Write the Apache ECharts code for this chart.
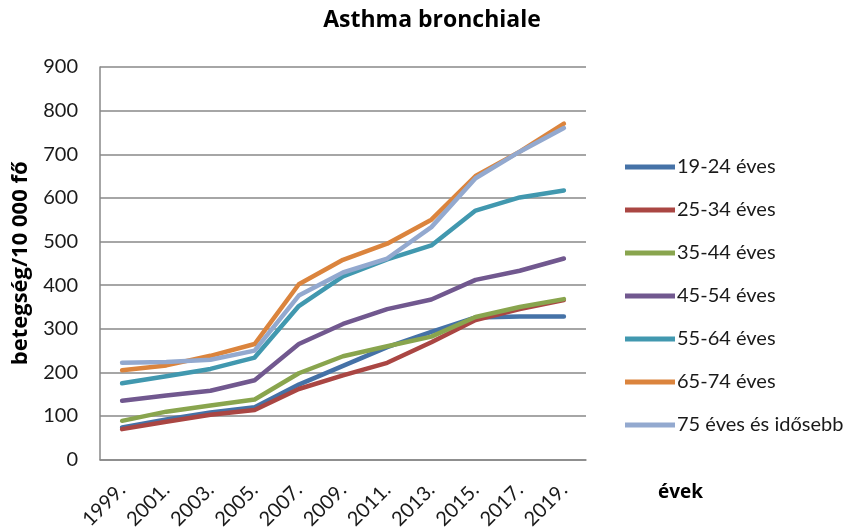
<!DOCTYPE html>
<html>
<head>
<meta charset="utf-8">
<script src="https://cdn.jsdelivr.net/npm/echarts@6/dist/echarts.min.js"></script>
<style>
  html, body { margin: 0; padding: 0; background: #fff; }
  #chart { width: 854px; height: 532px; }
</style>
</head>
<body>
<div id="chart"></div>
<script>
// Years on the category axis
const years = ['1999.', '2001.', '2003.', '2005.', '2007.', '2009.', '2011.', '2013.', '2015.', '2017.', '2019.'];

// Patients per 10 000 people, by age group
const age19_24 = [74, 92, 108, 120, 172, 215, 258, 293, 326, 328, 328];
const age25_34 = [70, 87, 103, 114, 162, 193, 222, 269, 320, 345, 366];
const age35_44 = [89, 110, 124, 138, 198, 237, 260, 282, 327, 350, 368];
const age45_54 = [135, 147, 158, 182, 265, 311, 345, 367, 412, 433, 461];
const age55_64 = [175, 191, 208, 234, 352, 420, 459, 491, 571, 601, 617];
const age65_74 = [205, 216, 238, 265, 402, 458, 495, 550, 650, 706, 770];
const age75plus = [222, 224, 229, 250, 376, 429, 461, 533, 645, 706, 760];

const seriesNames = ['19-24 éves', '25-34 éves', '35-44 éves', '45-54 éves', '55-64 éves', '65-74 éves', '75 éves és idősebb'];
const seriesData = [age19_24, age25_34, age35_44, age45_54, age55_64, age65_74, age75plus];
const colors = ['#4572A7', '#AA4643', '#89A54E', '#71588F', '#4198AF', '#DB843D', '#93A9CF'];

const yTicks = [0, 100, 200, 300, 400, 500, 600, 700, 800, 900];

const FONT = 'Lato, "Open Sans", sans-serif';
const BOLD_FONT = '"Open Sans", Lato, sans-serif';

const chart = echarts.init(document.getElementById('chart'));
chart.setOption({
  animation: false,
  color: colors,
  textStyle: { fontFamily: FONT },
  title: {
    text: 'Asthma bronchiale',
    left: 427,
    top: 4,
    textAlign: 'center',
    textStyle: { fontFamily: BOLD_FONT, fontSize: 23, fontWeight: 'bold', color: '#000' }
  },
  grid: { left: 100, right: 268, top: 67, bottom: 71 },
  legend: {
    orient: 'vertical',
    left: 620,
    top: 152,
    itemWidth: 50,
    itemHeight: 14,
    itemGap: 23,
    icon: 'path://M0,4.5 L50,4.5 L50,9.5 L0,9.5 Z',
    textStyle: { fontFamily: FONT, fontSize: 20, lineHeight: 20, color: '#1a1a1a', padding: [0, 0, 0, -3] },
    data: seriesNames
  },
  xAxis: {
    type: 'category',
    data: years,
    boundaryGap: true,
    name: 'évek',
    nameLocation: 'end',
    nameGap: 72,
    nameTextStyle: {
      fontFamily: BOLD_FONT, fontSize: 19, fontWeight: 'bold', color: '#000',
      verticalAlign: 'top', lineHeight: 22, padding: [22, 0, 0, 0]
    },
    axisLine: { lineStyle: { color: '#888', width: 1.5 } },
    axisTick: { show: false },
    axisLabel: { rotate: 45, fontFamily: FONT, fontSize: 20, color: '#1a1a1a', margin: 27, interval: 0 }
  },
  yAxis: {
    type: 'value',
    min: yTicks[0],
    max: yTicks[yTicks.length - 1],
    interval: 100,
    name: 'betegség/10 000 fő',
    nameLocation: 'middle',
    nameGap: 68,
    nameRotate: 90,
    nameTextStyle: { fontFamily: BOLD_FONT, fontSize: 22, fontWeight: 'bold', color: '#000' },
    axisLine: { show: true, lineStyle: { color: '#888', width: 1.5 } },
    axisTick: { show: false },
    axisLabel: { fontFamily: FONT, fontSize: 20, color: '#1a1a1a', margin: 22 },
    splitLine: { lineStyle: { color: '#888', width: 1.5 } }
  },
  series: seriesNames.map((name, i) => ({
    name: name,
    type: 'line',
    data: seriesData[i],
    symbol: 'none',
    lineStyle: { width: 4.5, color: colors[i], cap: 'round', join: 'round' },
    itemStyle: { color: colors[i] }
  }))
});
</script>
</body>
</html>
